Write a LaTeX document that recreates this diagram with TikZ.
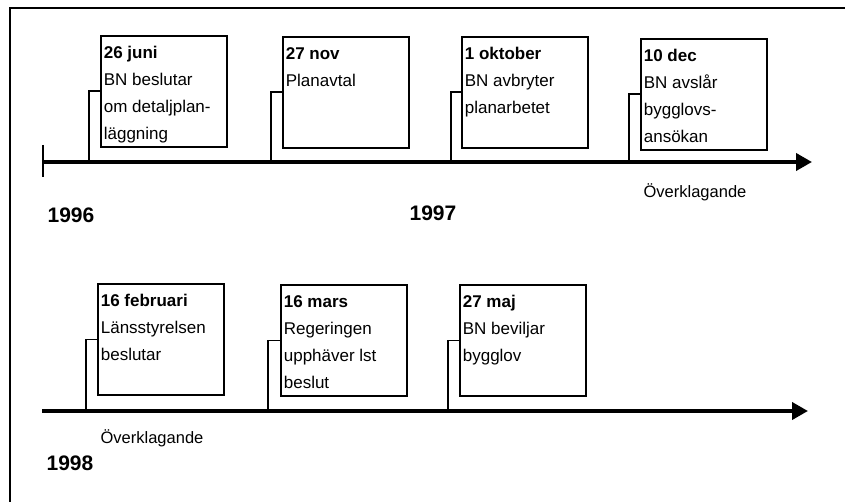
\documentclass[tikz,border=0pt]{standalone}
\usepackage{fontspec}
\setmainfont{Liberation Sans}
\usetikzlibrary{arrows.meta}

\newcommand{\evt}[2]{\parbox[t][91pt][t]{120pt}{\fontsize{17}{27}\selectfont\rule{0pt}{13pt}\textbf{#1}\\#2}}

\begin{document}
\begin{tikzpicture}[x=1pt, y=-1pt,
    evbox/.style={draw, line width=1.7pt, anchor=north west, inner xsep=3pt, inner ysep=10pt},
    stem/.style={line width=1.7pt},
    axis/.style={line width=3.8pt, -{Triangle[length=16pt,width=17pt]}},
    year/.style={font=\fontsize{21}{25}\selectfont\bfseries},
    appeal/.style={font=\fontsize{16.5}{20}\selectfont}]
            \useasboundingbox (0,0) rectangle (845,502);
            \draw[line width=1.3pt] (10,502) -- (10,8) -- (845,8);
            % 1996--1997
            \coordinate (a0) at (43,162);
            \coordinate (a1) at (812,162);
            \draw[axis] (a0) -- (a1);
            \draw[line width=1.7pt] (43,145) -- (43,177);
            \node[evbox] (b1) at (100,35) {\evt{26 juni}{BN beslutar\\om detaljplan-\\läggning}};
            \node[evbox] (b2) at (282,36) {\evt{27 nov}{Planavtal}};
            \node[evbox] (b3) at (461,36) {\evt{1 oktober}{BN avbryter\\planarbetet}};
            \node[evbox] (b4) at (640,38) {\evt{10 dec}{BN avslår\\bygglovs-\\ansökan}};
            \coordinate (s1) at (89,162);
            \coordinate (s2) at (271,162);
            \coordinate (s3) at (451,162);
            \coordinate (s4) at (629,162);
            \draw[stem] (s1) |- (b1.west);
            \draw[stem] (s2) |- (b2.west);
            \draw[stem] (s3) |- (b3.west);
            \draw[stem] (s4) |- (b4.west);
            \node[appeal] (o1) at (695,192) {Överklagande};
            \node[year] (y1) at (71,215) {1996};
            \node[year] (y2) at (433,213) {1997};
            % 1998
            \coordinate (c0) at (42,411);
            \coordinate (c1) at (808,411);
            \draw[axis] (c0) -- (c1);
            \node[evbox] (b5) at (97,283) {\evt{16 februari}{Länsstyrelsen\\beslutar}};
            \node[evbox] (b6) at (280,284) {\evt{16 mars}{Regeringen\\upphäver lst\\beslut}};
            \node[evbox] (b7) at (459,284) {\evt{27 maj}{BN beviljar\\bygglov}};
            \coordinate (s5) at (86,411);
            \coordinate (s6) at (268,411);
            \coordinate (s7) at (448,411);
            \draw[stem] (s5) |- (b5.west);
            \draw[stem] (s6) |- (b6.west);
            \draw[stem] (s7) |- (b7.west);
            \node[appeal] (o2) at (152,438) {Överklagande};
            \node[year] (y3) at (70,463) {1998};
          \end{tikzpicture}
\end{document}
